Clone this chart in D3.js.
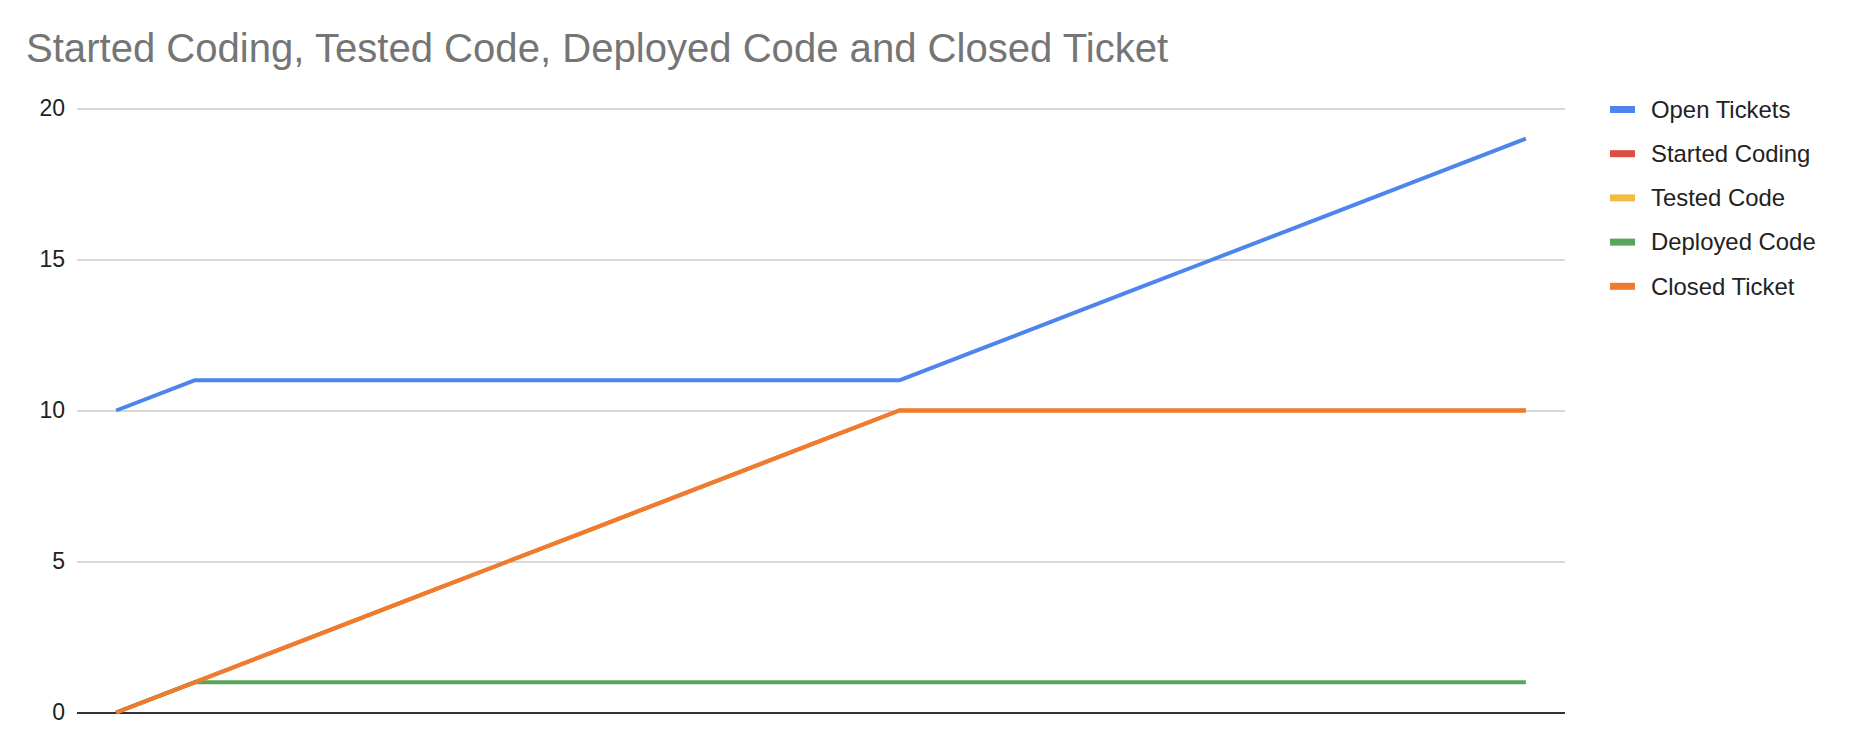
<!DOCTYPE html>
<html><head><meta charset="utf-8">
<script src="https://cdn.jsdelivr.net/npm/d3@7"></script>
<style>body{margin:0;background:#fff;}svg{display:block;font-family:"Liberation Sans",Arial,sans-serif;}</style>
</head><body>
<svg id="chart" width="1850" height="746"></svg>
<script>
const title = "Started Coding, Tested Code, Deployed Code and Closed Ticket";
const categories = d3.range(19).map(i => "P" + i);
const seriesNames = ["Open Tickets", "Started Coding", "Tested Code", "Deployed Code", "Closed Ticket"];
const seriesColors = ["#4e85ec", "#dc4e41", "#f2bd42", "#57a65b", "#ef7b31"];
const openTickets   = [10, 11, 11, 11, 11, 11, 11, 11, 11, 11, 11, 12, 13, 14, 15, 16, 17, 18, 19];
const startedCoding = [0, 1, 2, 3, 4, 5, 6, 7, 8, 9, 10, 10, 10, 10, 10, 10, 10, 10, 10];
const testedCode    = [0, 1, 2, 3, 4, 5, 6, 7, 8, 9, 10, 10, 10, 10, 10, 10, 10, 10, 10];
const deployedCode  = [0, 1, 1, 1, 1, 1, 1, 1, 1, 1, 1, 1, 1, 1, 1, 1, 1, 1, 1];
const closedTicket  = [0, 1, 2, 3, 4, 5, 6, 7, 8, 9, 10, 10, 10, 10, 10, 10, 10, 10, 10];
const yTicks = [0, 5, 10, 15, 20];

const seriesValues = [openTickets, startedCoding, testedCode, deployedCode, closedTicket];

const svg = d3.select("#chart");
const plotLeft = 77, plotRight = 1565, plotTop = 108.5, plotBottom = 712.5;

const x = d3.scalePoint().domain(categories).range([plotLeft, plotRight]).padding(0.5);
const y = d3.scaleLinear().domain([0, 20]).range([plotBottom, plotTop]);

svg.append("text").attr("x", 26).attr("y", 62)
  .attr("font-size", 40.1).attr("fill", "#757575").text(title);

// gridlines
const yAxis = d3.axisLeft(y).tickValues(yTicks).tickSize(-(plotRight - plotLeft)).tickPadding(12).tickFormat(d3.format("d"));
const g = svg.append("g").attr("transform", `translate(${plotLeft},0)`).call(yAxis);
g.select(".domain").remove();
g.selectAll(".tick line").attr("stroke", "#cccccc").attr("stroke-width", 1.4);
g.selectAll(".tick text").attr("font-size", 23).attr("fill", "#222").attr("font-family", "Liberation Sans, Arial, sans-serif");
g.selectAll(".tick").filter(d => d === 0).select("line").attr("stroke", "#333").attr("stroke-width", 2.2);

const line = d3.line().x((d, i) => x(categories[i])).y(d => y(d));
seriesValues.forEach((vals, k) => {
  svg.append("path").datum(vals).attr("d", line)
    .attr("fill", "none").attr("stroke", seriesColors[k]).attr("stroke-width", 4)
    .attr("stroke-linejoin", "round");
});

// legend
const lg = svg.append("g");
seriesNames.forEach((name, k) => {
  const cy = 109.5 + k * 44.2;
  lg.append("rect").attr("x", 1610).attr("y", cy - 3.5).attr("width", 25).attr("height", 7).attr("fill", seriesColors[k]);
  lg.append("text").attr("x", 1651).attr("y", cy).attr("dy", "0.35em")
    .attr("font-size", 23.9).attr("fill", "#222").text(name);
});
</script>
</body></html>
